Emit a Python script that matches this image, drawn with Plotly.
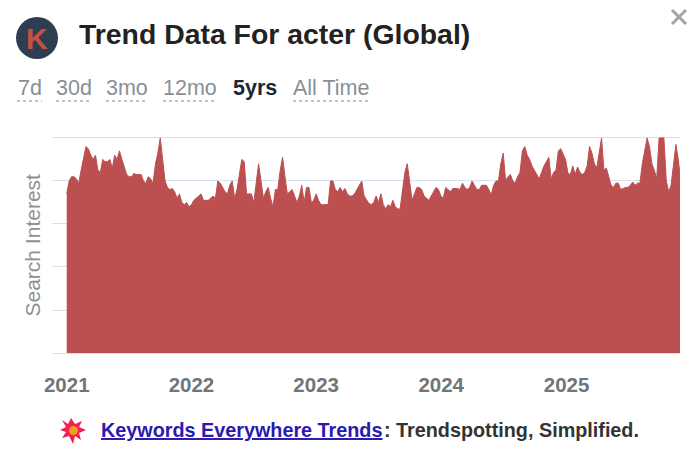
import datetime as dt
import plotly.graph_objects as go

W, H = 693, 463
START = dt.date(2021, 1, 3)
interest = [
74,80,82,82,81,79,85,90,96,95,92,90,92,85,84,90,89,89,90,86,92,90,94,90,86,83,82,82,83.5,83,83,83,80,79,82,81,79,88,93,100,
90,80,77,76,76.5,75,72,74,70,69,70,68,69,71,72,73,74,71,71,71,72,73,72,80,79,77,75,74,78,80,72,76,84,90,89,74,74,
74,70,78,88,80,72,75,77,72,68,76,76,85,91,82,74,75,76,73,70,73,78,70,77,77,70,71,74,71,69,69,69,69,80,80,76,75,77,75,76.5,74,73,73,74,76,78,80,73,71,69.5,69,70,73,70,74,69,67,69,68,71,68,67,67,75,84,88,78,71,74,77,77,76,73,72,71,73,75,77,76,73,72,77,76,75,76.5,76.5,76.5,76,79,77,76,
77,80,78,76,76,78,78,78,76,73.5,78,80,80,88,93,80,82,83,80,79,82,84,94,96,92,90,87,85,83,81,84,87,89,91,81,84,85,94,95,92,90,83.5,83,87,83,86.5,84,83,84,87,96,93,88,86,94,100,85,86,82,78,77,79,79,76,76.5,77,77,78,79.5,78,79,79,88,95,100,96,88,85,81,100,100,100,80,75,78,88,97,90,80,
]
weeks = [START + dt.timedelta(days=7 * i) for i in range(len(interest))]
year_ticks = ["2021-01-03", "2022-01-02", "2023-01-01", "2024-01-01", "2025-01-01"]
year_labels = ["2021", "2022", "2023", "2024", "2025"]
grid_values = [0, 20, 40, 60, 80, 100]
range_labels = ["7d", "30d", "3mo", "12mo", "5yrs", "All Time"]

RED = "#bc5050"
px = lambda x: x / W
py = lambda y: 1 - y / H

fig = go.Figure(go.Scatter(
    x=weeks, y=interest, mode="lines", fill="tozeroy",
    fillcolor=RED, line=dict(color=RED, width=1), hoverinfo="skip",
))

left = START - dt.timedelta(days=43)
right = START + dt.timedelta(days=1790)

annotations = []
def txt(x, y, s, size, color, anchor="left", bold=False, angle=0):
    annotations.append(dict(
        x=px(x), y=py(y), xref="paper", yref="paper", text=f"<b>{s}</b>" if bold else s,
        showarrow=False, xanchor=anchor, yanchor="middle", textangle=angle,
        font=dict(size=size, color=color, family="Liberation Sans, Arial, sans-serif"),
        borderpad=0, borderwidth=0,
    ))

txt(79, 34, "Trend Data For acter (Global)", 28.4, "#222222", bold=True)
txt(37, 38, "K", 30, "#c8503f", anchor="center", bold=True)
txt(31.5, 245, "Search Interest", 21, "#909090", anchor="center", angle=-90)
txt(101, 430, "<u>Keywords Everywhere Trends</u>", 19.8, "#2a1ab0", bold=True)
txt(384, 430, ": Trendspotting, Simplified.", 19.8, "#333333", bold=True)

range_pos = [(17, 42), (56, 92), (106, 147), (163, 216), (231, 278), (293, 369)]
shapes = []
for label, (a, b) in zip(range_labels, range_pos):
    active = label == "5yrs"
    txt((a + b) / 2, 88, label, 21.5, "#1c2733" if active else "#8a8f96", anchor="center", bold=active)
    if not active:
        shapes.append(dict(type="line", xref="paper", yref="paper", x0=px(a), x1=px(b),
                           y0=py(101), y1=py(101), line=dict(color="#888888", width=1, dash="dot")))

# logo
shapes.append(dict(type="circle", xref="paper", yref="paper", x0=px(16), x1=px(58),
                   y0=py(59), y1=py(17), fillcolor="#2c3e50", line=dict(width=0), layer="below"))
# close button
for (x0, y0, x1, y1) in [(672, 10, 686, 24), (672, 24, 686, 10)]:
    shapes.append(dict(type="line", xref="paper", yref="paper", x0=px(x0), x1=px(x1),
                       y0=py(y0), y1=py(y1), line=dict(color="#a0a5ab", width=3)))
# burst icon
def star(cx, cy, pts):
    path = "M " + " L ".join(f"{px(cx + dx)},{py(cy + dy)}" for dx, dy in pts) + " Z"
    return path
burst = [(-11,-10),(-5,-6),(-2,-12),(2,-6),(9,-9),(6,-3),(13,0),(6,3),(8,10),(2,6),(0,14),(-4,6),(-11,8),(-7,2),(-13,0),(-7,-3)]
shapes.append(dict(type="path", xref="paper", yref="paper", path=star(73, 430, burst),
                   fillcolor="#f0204f", line=dict(width=0)))
shapes.append(dict(type="circle", xref="paper", yref="paper", x0=px(69), x1=px(78),
                   y0=py(435), y1=py(426), fillcolor="#f0a020", line=dict(width=0)))

fig.update_layout(
    width=W, height=H, margin=dict(l=0, r=0, t=0, b=0),
    paper_bgcolor="white", plot_bgcolor="white", showlegend=False,
    annotations=annotations, shapes=shapes,
    xaxis=dict(
        domain=[px(52), px(680)], range=[left.isoformat(), right.isoformat()], type="date",
        tickmode="array", tickvals=year_ticks, ticktext=year_labels, showgrid=False, automargin=False,
        ticks="", ticklabelstandoff=13, showline=True, linecolor="#d6e0f0", linewidth=1,
        tickfont=dict(size=20.5, color="#70757a", family="Liberation Sans, Arial, sans-serif", weight="bold"),
        zeroline=False,
    ),
    yaxis=dict(
        domain=[py(353), py(136.9)], range=[0, 100.5], tickmode="array", tickvals=grid_values,
        showticklabels=False, showgrid=True, gridcolor="#d6e0f0", gridwidth=1, zeroline=False,
        ticks="", automargin=False,
    ),
)
fig.write_html("out.html", config=dict(displayModeBar=False),
               post_script="document.body.style.margin='0';document.documentElement.style.overflow='hidden';")
